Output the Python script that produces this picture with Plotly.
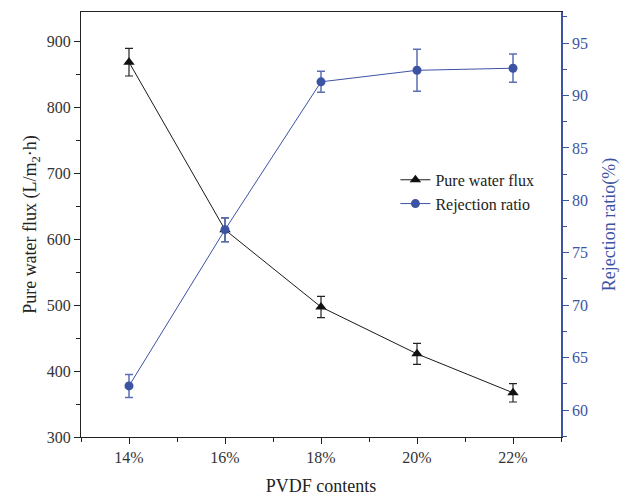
import plotly.graph_objects as go

pvdf = [14, 16, 18, 20, 22]
pvdf_labels = ["14%", "16%", "18%", "20%", "22%"]
flux = [868, 614, 497, 426, 367]
flux_err = [21, 18, 16, 16, 14]
rejection = [62.3, 77.2, 91.3, 92.4, 92.6]
rejection_err = [1.1, 1.15, 1.0, 2.0, 1.35]

BLUE = "#3c53a4"
FONT = "Liberation Serif"

fig = go.Figure()
fig.add_trace(go.Scatter(
    x=pvdf, y=flux, name="Pure water flux", mode="lines+markers",
    line=dict(color="#1a1a1a", width=1),
    marker=dict(symbol="triangle-up", size=10, color="#111111"),
    error_y=dict(type="data", array=flux_err, color="#222222", thickness=1.2, width=4),
))
fig.add_trace(go.Scatter(
    x=pvdf, y=rejection, name="Rejection ratio", mode="lines+markers", yaxis="y2",
    line=dict(color=BLUE, width=1),
    marker=dict(symbol="circle", size=9, color=BLUE),
    error_y=dict(type="data", array=rejection_err, color="#5a6fb3", thickness=1.5, width=4),
))

fig.update_layout(
    width=620, height=497,
    margin=dict(l=81, r=59, t=12, b=60),
    paper_bgcolor="white", plot_bgcolor="white",
    font=dict(family=FONT, size=16, color="#222222"),
    showlegend=True,
    legend=dict(x=0.655, y=0.645, xanchor="left", yanchor="top",
                bgcolor="rgba(0,0,0,0)", font=dict(family=FONT, size=16, color="#222222"),
                itemwidth=30, tracegroupgap=0),
    xaxis=dict(
        range=[13, 23], tickvals=pvdf, ticktext=pvdf_labels,
        showgrid=False, zeroline=False, automargin=False,
        showline=True, linecolor="#222222", linewidth=1.2, mirror=True,
        ticks="outside", ticklen=6, tickcolor="#222222",
        minor=dict(ticks="outside", ticklen=4, dtick=1, tick0=13, tickcolor="#222222"),
        title=dict(text="PVDF contents", font=dict(family=FONT, size=18, color="#222222"), standoff=14),
        tickfont=dict(family=FONT, size=16, color="#333333"),
    ),
    yaxis=dict(
        range=[300, 944], dtick=100, tick0=300,
        showgrid=False, zeroline=False, automargin=False,
        showline=True, linecolor="#222222", linewidth=1.2,
        ticks="outside", ticklen=6, tickcolor="#222222",
        minor=dict(ticks="outside", ticklen=4, dtick=50, tickcolor="#222222"),
        title=dict(text="Pure water flux (L/m<sub>2</sub>·h)", font=dict(family=FONT, size=18, color="#222222"), standoff=5),
        tickfont=dict(family=FONT, size=16, color="#333333"),
    ),
    yaxis2=dict(
        range=[57.43, 97.96], dtick=5, tick0=60, overlaying="y", side="right",
        showgrid=False, zeroline=False, automargin=False,
        showline=True, linecolor=BLUE, linewidth=1.5,
        ticks="outside", ticklen=6, tickcolor=BLUE,
        minor=dict(ticks="outside", ticklen=4, dtick=2.5, tickcolor=BLUE),
        title=dict(text="Rejection ratio(%)", font=dict(family=FONT, size=18, color=BLUE), standoff=17),
        tickfont=dict(family=FONT, size=16, color=BLUE),
    ),
)

fig.write_html("out.html")
